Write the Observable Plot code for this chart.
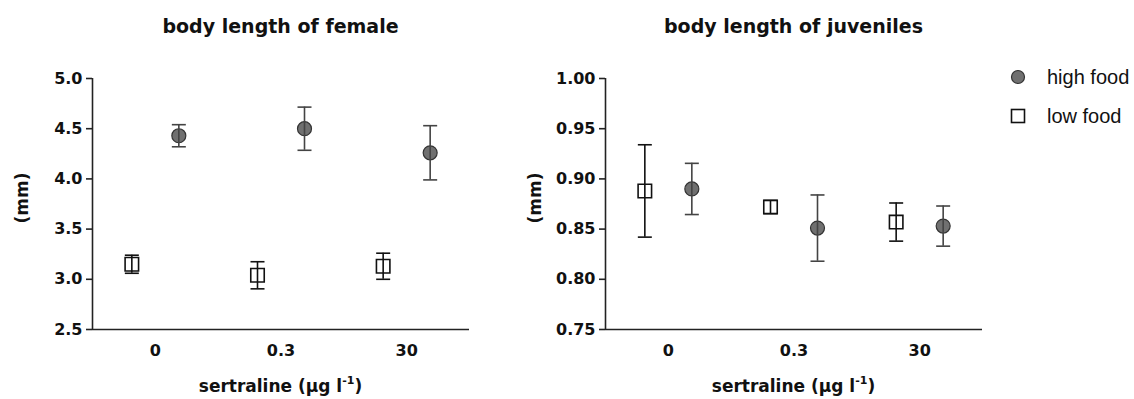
<!DOCTYPE html>
<html><head><meta charset="utf-8">
<script src="https://cdn.jsdelivr.net/npm/d3@7"></script>
<script src="https://cdn.jsdelivr.net/npm/@observablehq/plot@0.6"></script>
<style>
body{margin:0;background:#fff;}
#wrap{position:relative;width:1134px;height:399px;overflow:hidden;background:#fff;}
#wrap svg.plotsvg{position:absolute;top:0;}
.t{position:absolute;font-family:"DejaVu Sans",sans-serif;font-weight:bold;color:#111;white-space:nowrap;line-height:1;transform:translateX(-50%);}
.title{font-size:19px;top:16.5px;}
.xl{font-size:17px;top:377.5px;}
.xl sup{font-size:11px;vertical-align:0;position:relative;top:-8px;}
.yl{position:absolute;font-family:"DejaVu Sans",sans-serif;font-weight:bold;font-size:17px;color:#111;white-space:nowrap;line-height:1;transform:translate(-50%,-50%) rotate(-90deg);}
.leg{position:absolute;font-family:"Liberation Sans",Arial,sans-serif;font-size:20px;color:#111;line-height:1;white-space:nowrap;}
.sym{position:absolute;}
</style></head><body><div id="wrap"></div>
<script>
// ---- data ----
const concentrations = ["0", "0.3", "30"];
const foods = ["high food", "low food"];

const femaleHighMean = [4.43, 4.50, 4.26];
const femaleHighErr  = [0.11, 0.215, 0.27];
const femaleLowMean  = [3.15, 3.04, 3.13];
const femaleLowErr   = [0.09, 0.135, 0.13];

const juvHighMean = [0.890, 0.851, 0.853];
const juvHighErr  = [0.0255, 0.033, 0.020];
const juvLowMean  = [0.888, 0.872, 0.857];
const juvLowErr   = [0.046, 0.0065, 0.019];

const femaleTicks = [2.5, 3.0, 3.5, 4.0, 4.5, 5.0];
const juvTicks    = [0.75, 0.80, 0.85, 0.90, 0.95, 1.00];

const titles = ["body length of female", "body length of juveniles"];
const yLabel = "(mm)";

// ---- drawing ----
const wrap = document.getElementById("wrap");
const capSymbol = {draw(ctx) { ctx.moveTo(-7, 0); ctx.lineTo(7, 0); }};
const OFF = 23.5;
const axisFont = {fontSize: 16, fontFamily: "DejaVu Sans", fontWeight: "bold", fill: "#111"};

function rows(means, errs, food) {
  return concentrations.map((c, i) => ({i, c, food, m: means[i], lo: means[i] - errs[i], hi: means[i] + errs[i]}));
}

function panel({high, highErr, low, lowErr, ticks, fmt, left, svgLeft}) {
  const H = rows(high, highErr, foods[0]);
  const L = rows(low, lowErr, foods[1]);
  const xDomain = [-0.5, concentrations.length - 0.5];
  const yDomain = d3.extent(ticks);
  const highBar = "#444", lowBar = "#111";
  const p = Plot.plot({
    width: left + 377 + 12, height: 369,
    marginLeft: left, marginRight: 12, marginTop: 78, marginBottom: 40,
    style: {background: "transparent", overflow: "visible"},
    x: {type: "linear", domain: xDomain},
    y: {domain: yDomain},
    marks: [
      Plot.axisX({ticks: concentrations.map((_, i) => i), tickFormat: i => concentrations[i], tickSize: 0, tickPadding: 15, label: null, ...axisFont}),
      Plot.axisY({ticks: ticks, tickFormat: fmt, tickSize: 6, tickPadding: 4, label: null, stroke: "#222", strokeWidth: 1.6, ...axisFont}),
      Plot.ruleY([yDomain[0]], {stroke: "#222", strokeWidth: 1.6}),
      Plot.ruleX([xDomain[0]], {stroke: "#222", strokeWidth: 1.6}),
      // markers
      Plot.dot(L, {x: "i", y: "m", dx: -OFF, symbol: "square", r: 7.6, fill: "white", stroke: "#111", strokeWidth: 1.6}),
      Plot.dot(H, {x: "i", y: "m", dx: OFF, symbol: "circle", r: 7, fill: "#707070", stroke: "#333", strokeWidth: 1.2}),
      // error bars
      Plot.ruleX(L, {x: "i", y1: "lo", y2: "hi", dx: -OFF, stroke: lowBar, strokeWidth: 1.6}),
      Plot.dot(L, {x: "i", y: "lo", dx: -OFF, symbol: capSymbol, fill: "none", stroke: lowBar, strokeWidth: 1.6}),
      Plot.dot(L, {x: "i", y: "hi", dx: -OFF, symbol: capSymbol, fill: "none", stroke: lowBar, strokeWidth: 1.6}),
      Plot.ruleX(H, {x: "i", y1: "lo", y2: "hi", dx: OFF, stroke: highBar, strokeWidth: 1.6}),
      Plot.dot(H, {x: "i", y: "lo", dx: OFF, symbol: capSymbol, fill: "none", stroke: highBar, strokeWidth: 1.6}),
      Plot.dot(H, {x: "i", y: "hi", dx: OFF, symbol: capSymbol, fill: "none", stroke: highBar, strokeWidth: 1.6})
    ]
  });
  p.classList.add("plotsvg");
  p.style.left = svgLeft + "px";
  p.querySelectorAll("text").forEach(t => {
    t.style.fontSize = "16px"; t.style.fontFamily = '"DejaVu Sans", sans-serif'; t.style.fontWeight = "bold"; t.style.fill = "#111";
  });
  wrap.appendChild(p);
}

panel({high: femaleHighMean, highErr: femaleHighErr, low: femaleLowMean, lowErr: femaleLowErr,
       ticks: femaleTicks, fmt: d3.format(".1f"), left: 92, svgLeft: 0});
panel({high: juvHighMean, highErr: juvHighErr, low: juvLowMean, lowErr: juvLowErr,
       ticks: juvTicks, fmt: d3.format(".2f"), left: 105, svgLeft: 500});

// titles and axis labels
const centers = [92 + 377 / 2, 605 + 377 / 2];
const yLabelX = [21.5, 535];
centers.forEach((cx, k) => {
  const t = document.createElement("div");
  t.className = "t title"; t.style.left = cx + "px"; t.textContent = titles[k];
  wrap.appendChild(t);
  const xl = document.createElement("div");
  xl.className = "t xl"; xl.style.left = cx + "px";
  xl.innerHTML = "sertraline (µg l<sup>-1</sup>)";
  wrap.appendChild(xl);
  const yl = document.createElement("div");
  yl.className = "yl"; yl.style.left = yLabelX[k] + "px"; yl.style.top = "198px"; yl.textContent = yLabel;
  wrap.appendChild(yl);
});

// legend
const legY = [76.7, 116];
foods.forEach((f, k) => {
  const s = document.createElementNS("http://www.w3.org/2000/svg", "svg");
  s.setAttribute("width", 18); s.setAttribute("height", 18);
  s.setAttribute("class", "sym");
  s.style.left = (1018 - 9) + "px"; s.style.top = (legY[k] - 9) + "px";
  s.innerHTML = k === 0
    ? '<circle cx="9" cy="9" r="6.5" fill="#707070" stroke="#333" stroke-width="1.2"/>'
    : '<rect x="2.5" y="2.5" width="13" height="13" fill="white" stroke="#111" stroke-width="1.6"/>';
  wrap.appendChild(s);
  const d = document.createElement("div");
  d.className = "leg"; d.style.left = "1047px"; d.style.top = (legY[k] - 9.8) + "px";
  d.textContent = f;
  wrap.appendChild(d);
});
</script></body></html>
